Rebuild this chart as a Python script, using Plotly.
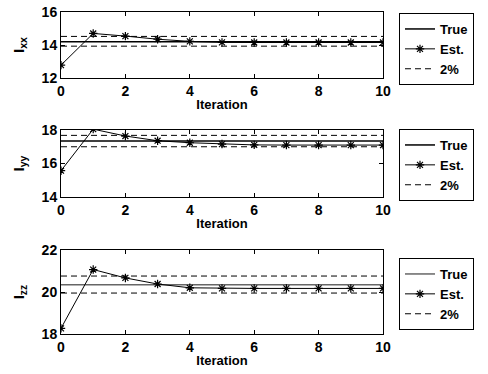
import plotly.graph_objects as go

iterations = [0, 1, 2, 3, 4, 5, 6, 7, 8, 9, 10]

ixx_est = [12.78, 14.70, 14.54, 14.35, 14.22, 14.16, 14.15, 14.15, 14.15, 14.15, 14.15]
ixx_true = 14.20
ixx_band = [13.93, 14.52]

iyy_est = [15.57, 18.05, 17.64, 17.36, 17.24, 17.16, 17.11, 17.10, 17.10, 17.10, 17.10]
iyy_true = 17.34
iyy_band = [17.00, 17.68]

izz_est = [18.27, 21.07, 20.67, 20.38, 20.20, 20.17, 20.17, 20.17, 20.17, 20.17, 20.17]
izz_true = 20.35
izz_band = [19.95, 20.76]

y_ranges = [[12, 16], [14, 18], [18, 22]]
y_titles = ["I<sub>xx</sub>", "I<sub>yy</sub>", "I<sub>zz</sub>"]
x_title = "Iteration"

FAM = "Liberation Sans, Arial, Helvetica, sans-serif"
FONT = dict(family=FAM, size=13, color="black", weight=700)

fig = go.Figure()

W, H = 488, 374
panels = [(12, 78), (130, 197), (250, 334)]
legend_tops = [13, 129, 258]

data = [
    (ixx_est, ixx_true, ixx_band, "black"),
    (iyy_est, iyy_true, iyy_band, "black"),
    (izz_est, izz_true, izz_band, "#666666"),
]

for i, (est, true_v, band, true_col) in enumerate(data):
    ax = "" if i == 0 else str(i + 1)
    xref, yref = "x" + ax, "y" + ax
    leg = "legend" + ax
    fig.add_trace(go.Scatter(x=[iterations[0], iterations[-1]], y=[true_v, true_v],
                             mode="lines", line=dict(color=true_col, width=1.5),
                             name="True", xaxis=xref, yaxis=yref, legend=leg))
    fig.add_trace(go.Scatter(x=iterations, y=est, mode="lines+markers",
                             line=dict(color="black", width=1),
                             marker=dict(symbol="asterisk-open", size=7,
                                         line=dict(color="black", width=1.2)),
                             name="Est.", xaxis=xref, yaxis=yref, legend=leg))
    for j, b in enumerate(band):
        fig.add_trace(go.Scatter(x=[iterations[0], iterations[-1]], y=[b, b],
                                 mode="lines", line=dict(color="black", width=1, dash="6px,4px"),
                                 name="2%", legendgroup="band" + ax, showlegend=(j == 0),
                                 xaxis=xref, yaxis=yref, legend=leg))

layout = dict(
    width=W, height=H, margin=dict(l=0, r=0, t=0, b=0, autoexpand=False),
    paper_bgcolor="white", plot_bgcolor="white",
    font=FONT, showlegend=True,
)

for i, (top, bot) in enumerate(panels):
    ax = "" if i == 0 else str(i + 1)
    layout["xaxis" + ax] = dict(
        domain=[61 / W, 383 / W], range=[0, 10], dtick=2, anchor="y" + ax,
        showline=True, linecolor="black", linewidth=1, mirror="ticks",
        ticks="inside", ticklen=4, tickcolor="black", showgrid=False, zeroline=False,
        automargin=False,
        tickfont=dict(size=14, family=FAM, weight=700),
        title=dict(text=x_title, standoff=2, font=dict(size=13, family=FAM, weight=700)),
    )
    layout["yaxis" + ax] = dict(
        domain=[1 - bot / H, 1 - top / H], range=y_ranges[i], dtick=2, anchor="x" + ax,
        showline=True, linecolor="black", linewidth=1, mirror="ticks",
        ticks="inside", ticklen=4, tickcolor="black", showgrid=False, zeroline=False,
        automargin=False,
        tickfont=dict(size=14, family=FAM, weight=700),
        title=dict(text=y_titles[i], standoff=13, font=dict(size=15, family=FAM, weight=700)),
    )
    layout["legend" + ax] = dict(
        x=399 / W, y=1 - legend_tops[i] / H, xanchor="left", yanchor="top",
        xref="paper", yref="paper",
        bgcolor="white", bordercolor="black", borderwidth=1,
        font=dict(size=13, family=FAM, weight=700, color="black"),
        tracegroupgap=0, itemwidth=30,
    )

fig.update_layout(**layout)
fig.write_html("out.html", config={"displayModeBar": False},
               post_script="document.body.style.margin='0';document.body.style.overflow='hidden';")
